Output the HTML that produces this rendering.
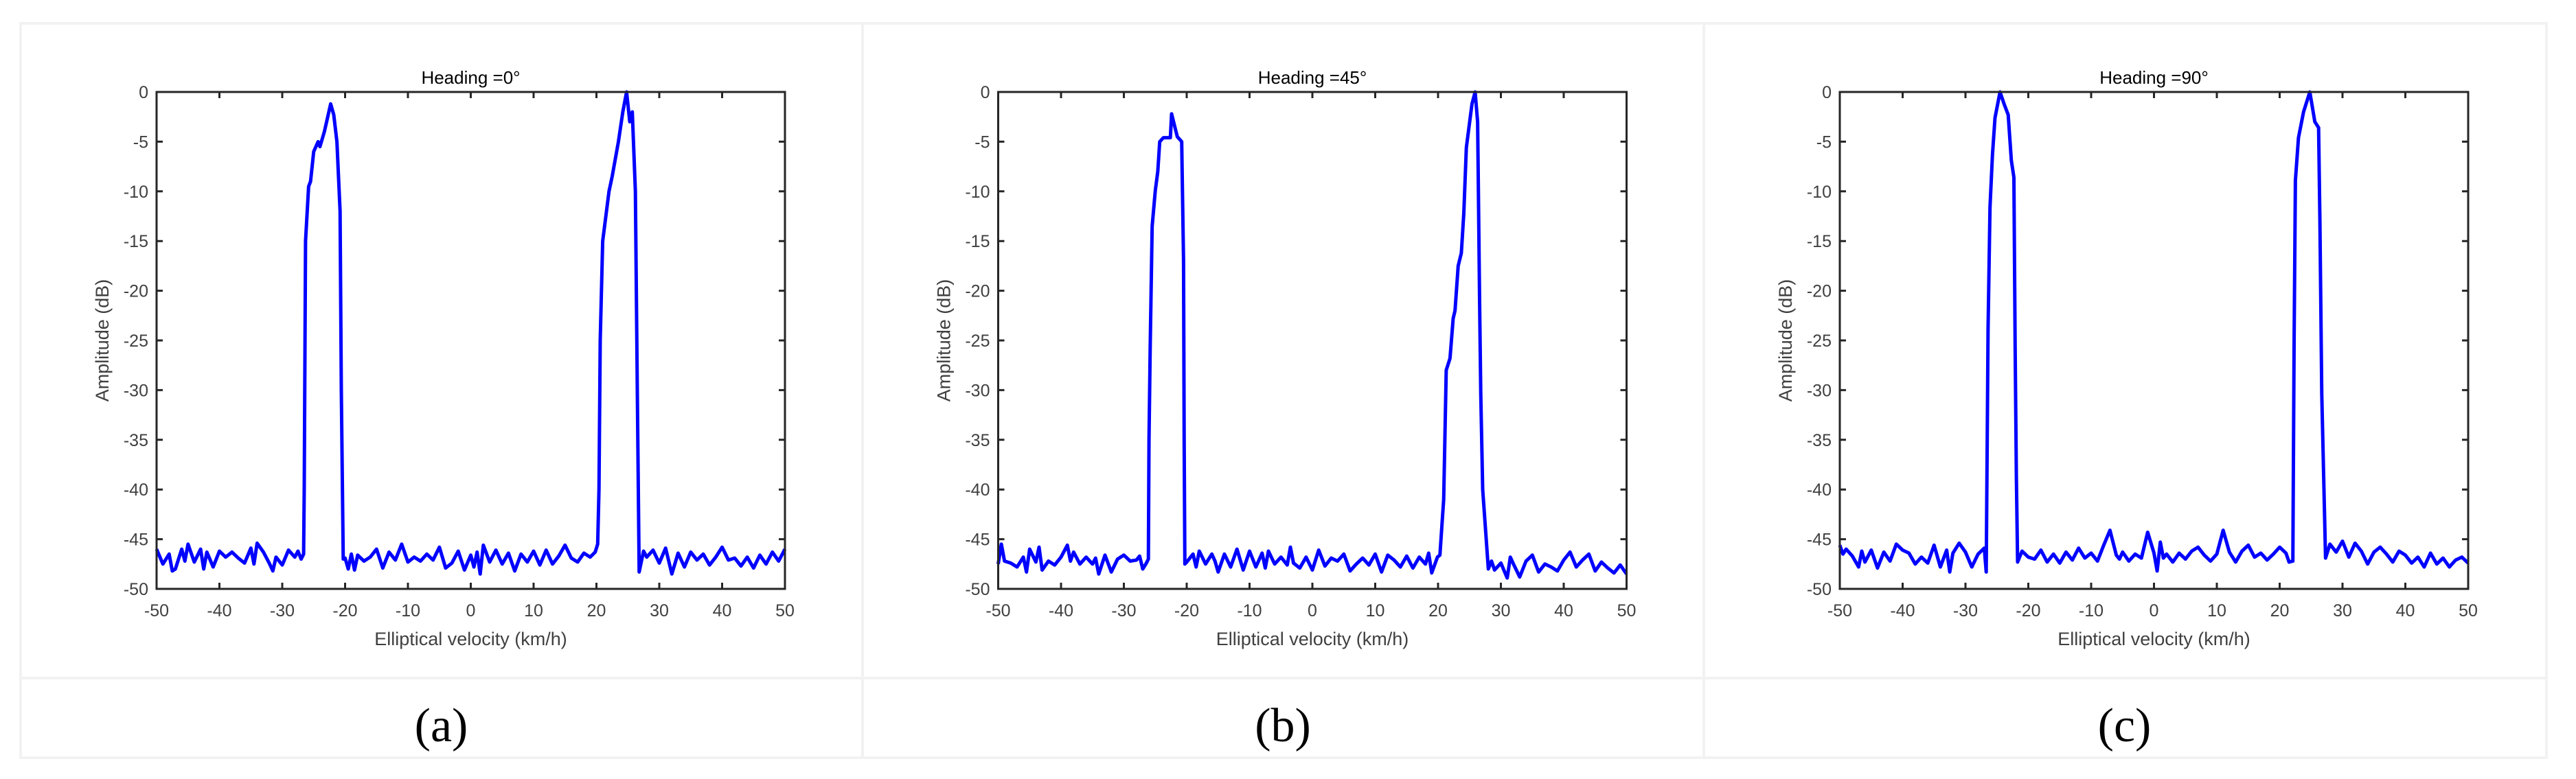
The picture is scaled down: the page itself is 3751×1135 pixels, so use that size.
<!DOCTYPE html>
<html><head><meta charset="utf-8">
<style>
html,body{margin:0;padding:0;background:#fff;}
svg{display:block;}
text{font-family:"Liberation Sans",sans-serif;}
text.serif{font-family:"Liberation Serif",serif;}
</style></head>
<body>
<svg id="fig" width="3751" height="1135" viewBox="0 0 3751 1135" xmlns="http://www.w3.org/2000/svg">
<g fill="none" stroke="#f2f2f2" stroke-width="4">
<rect x="30" y="34" width="3678" height="1070"/>
<line x1="30" y1="988" x2="3708" y2="988"/>
<line x1="1256" y1="34" x2="1256" y2="1104"/>
<line x1="2481" y1="34" x2="2481" y2="1104"/>
</g>
</svg>
<script>
const xTicks=[-50,-40,-30,-20,-10,0,10,20,30,40,50];
const yTicks=[0,-5,-10,-15,-20,-25,-30,-35,-40,-45,-50];
const titles=["Heading =0°","Heading =45°","Heading =90°"];
const captions=["(a)","(b)","(c)"];

const xsA=[-50,-49,-48,-47.5,-47,-46,-45.5,-45,-44,-43,-42.5,-42,-41,-40,-39,-38,-37,-36,-35,-34.5,-34,-33,-32,-31.5,-31,-30,-29,-28,-27.5,-27,-26.6,-26.5,-26.3,-25.8,-25.5,-25,-24.3,-24,-23.3,-22.3,-21.8,-21.3,-20.8,-20.6,-20.3,-20,-19.5,-19,-18.5,-18,-17,-16,-15,-14,-13,-12,-11,-10,-9,-8,-7,-6,-5,-4,-3,-2,-1,0,0.5,1,1.5,2,3,4,5,6,7,8,9,10,11,12,13,14,15,16,17,18,19,19.8,20.2,20.4,20.6,21,22,22.5,23.5,24.2,24.8,25.3,25.7,26.2,26.5,26.8,27.5,28,29,30,31,32,33,34,35,36,37,38,39,40,41,42,43,44,45,46,47,48,49,50];
const ysA=[-46,-47.5,-46.5,-48.2,-48,-46,-47.2,-45.5,-47.3,-46,-48,-46.3,-47.8,-46.2,-46.8,-46.3,-46.9,-47.4,-45.9,-47.5,-45.4,-46.3,-47.5,-48.2,-46.8,-47.6,-46.1,-46.8,-46.2,-47,-46.5,-40,-15,-9.5,-9,-6,-5,-5.5,-4,-1.2,-2.3,-5,-12,-30,-47,-46.9,-48,-46.5,-48.1,-46.6,-47.2,-46.8,-46,-47.9,-46.3,-47.1,-45.5,-47.3,-46.8,-47.2,-46.5,-47.1,-45.8,-47.9,-47.4,-46.2,-48.1,-46.6,-47.8,-46.3,-48.5,-45.6,-47.3,-46.1,-47.5,-46.4,-48.2,-46.5,-47.3,-46.2,-47.6,-46.1,-47.5,-46.7,-45.6,-46.9,-47.3,-46.4,-46.8,-46.3,-45.5,-40,-25,-15,-10,-8.5,-5,-2,0,-3,-2,-10,-30,-48.3,-46.2,-46.8,-46.1,-47.4,-45.9,-48.5,-46.4,-47.8,-46.3,-47.1,-46.5,-47.6,-46.8,-45.8,-47.1,-46.9,-47.7,-46.8,-47.9,-46.6,-47.5,-46.3,-47.2,-46];

const xsB=[-50,-49.5,-49,-48,-47,-46,-45.5,-45,-44,-43.5,-43,-42,-41,-40,-39,-38.5,-38,-37,-36,-35,-34.5,-34,-33,-32,-31,-30,-29,-28,-27.5,-27,-26.5,-26.1,-26,-25.8,-25.5,-25,-24.6,-24.3,-23.7,-22.6,-22.4,-21.5,-20.8,-20.5,-20.4,-20.3,-20,-19,-18.5,-18,-17,-16,-15.5,-15,-14,-13,-12,-11,-10,-9,-8,-7.5,-7,-6,-5,-4,-3.5,-3,-2,-1,0,1,2,3,4,5,6,7,8,9,10,11,12,13,14,15,16,17,18,18.5,19,19.9,20.3,20.9,21.3,21.9,22.4,22.7,23.2,23.7,24.1,24.5,25.4,25.9,26.3,26.4,26.6,26.8,27.1,28,28.5,29,30,31,31.5,32,33,34,35,36,37,38,39,40,41,42,43,44,45,46,47,48,49,50];
const ysB=[-47.5,-45.5,-47.2,-47.4,-47.8,-46.8,-48.3,-46,-47.3,-45.8,-48.1,-47.2,-47.6,-46.8,-45.6,-47.2,-46.3,-47.5,-46.8,-47.5,-46.9,-48.5,-46.6,-48.3,-47,-46.6,-47.2,-47.1,-46.7,-48,-47.5,-47,-35,-25.4,-13.5,-9.9,-8,-5,-4.6,-4.6,-2.2,-4.5,-5,-17,-35,-47.5,-47.3,-46.5,-47.8,-46.2,-47.5,-46.5,-47.2,-48.3,-46.5,-47.8,-46,-48.1,-46.2,-47.8,-46.4,-47.9,-46.2,-47.5,-46.8,-47.6,-45.8,-47.4,-47.9,-46.8,-48.1,-46.1,-47.7,-46.9,-47.2,-46.5,-48.2,-47.5,-46.9,-47.6,-46.5,-48.3,-46.6,-47.1,-47.8,-46.7,-47.9,-46.8,-47.5,-46.4,-48.4,-46.8,-46.6,-41,-28,-26.8,-22.8,-22,-17.5,-16.2,-12.2,-5.6,-1.2,0,-3,-9,-20.5,-30.4,-40,-48,-47.2,-48.1,-47.4,-48.9,-46.8,-47.5,-48.8,-47.2,-46.6,-48.3,-47.5,-47.8,-48.2,-47.1,-46.3,-47.8,-47.1,-46.5,-48.2,-47.3,-47.9,-48.4,-47.6,-48.5];

const xsC=[-50,-49.5,-49,-48,-47,-46.5,-46,-45,-44,-43,-42,-41,-40,-39,-38,-37,-36,-35,-34,-33,-32.5,-32,-31,-30,-29,-28,-27,-26.7,-26.4,-26.1,-25.7,-25.3,-24.5,-23.8,-23.2,-22.7,-22.3,-22.1,-21.9,-21.7,-21,-20,-19,-18,-17,-16,-15,-14,-13,-12,-11,-10,-9,-8,-7,-6,-5.5,-5,-4,-3,-2,-1,0,0.5,1,1.5,2,3,4,5,6,7,8,9,10,11,12,13,14,15,16,17,18,19,20,21,21.5,22.1,22.3,22.5,23,23.8,24.8,25.6,26.2,26.4,26.7,27.3,28,29,30,31,32,33,34,35,36,37,38,39,40,41,42,43,44,45,46,47,48,49,50];
const ysC=[-45.6,-46.5,-46,-46.7,-47.8,-46.2,-47.3,-46.1,-47.9,-46.3,-47.2,-45.5,-46.1,-46.4,-47.5,-46.8,-47.4,-45.6,-47.8,-46.1,-48.3,-46.4,-45.4,-46.3,-47.8,-46.5,-45.9,-48.3,-23.8,-11.6,-6.3,-2.6,0,-1.3,-2.3,-6.9,-8.6,-25.5,-38.7,-47.3,-46.2,-46.8,-47,-46.1,-47.3,-46.5,-47.4,-46.3,-47.1,-45.9,-46.9,-46.4,-47.2,-45.6,-44.1,-46.6,-47,-46.3,-47.2,-46.5,-46.9,-44.3,-46.4,-48.2,-45.3,-46.9,-46.5,-47.3,-46.4,-47,-46.2,-45.8,-46.6,-47.2,-46.5,-44.1,-46.3,-47.3,-46.2,-45.6,-46.8,-46.4,-47.1,-46.5,-45.8,-46.4,-47.3,-47.2,-25.4,-8.9,-4.6,-2,0,-3,-3.6,-13,-30.4,-46.9,-45.5,-46.3,-45.2,-46.8,-45.4,-46.2,-47.5,-46.3,-45.8,-46.5,-47.3,-46.2,-46.6,-47.4,-46.8,-47.8,-46.4,-47.5,-46.9,-47.8,-47.1,-46.8,-47.4];

const allX=[xsA,xsB,xsC];
const allY=[ysA,ysB,ysC];

const NS="http://www.w3.org/2000/svg";
const svg=document.getElementById('fig');
function mk(tag,attrs,parent){const e=document.createElementNS(NS,tag);for(const k in attrs)e.setAttribute(k,attrs[k]);parent.appendChild(e);return e;}

const L0=228,W=915,T=134,H=724,OFF=1225.5;
for(let p=0;p<3;p++){
  const L=L0+p*OFF;
  const xs=v=>L+(v+50)/100*W;
  const ys=v=>T+(-v)/50*H;
  const g=mk('g',{},svg);
  
  
  xTicks.forEach(t=>{
    const x=xs(t);
    const tl=mk('path',{d:`M${x},${T+H}v-9M${x},${T}v9`,stroke:'#262626','stroke-width':3},g);
    
    
    const tx=mk('text',{x:x,y:898,'text-anchor':'middle','font-size':25,fill:'#404040'},g);
    
    
    tx.textContent=t;
  });
  yTicks.forEach(t=>{
    const y=ys(t);
    const tl=mk('path',{d:`M${L},${y}h9M${L+W},${y}h-9`,stroke:'#262626','stroke-width':3},g);
    
    
    const tx=mk('text',{x:L-12,y:y+9,'text-anchor':'end','font-size':25,fill:'#404040'},g);
    
    
    tx.textContent=t;
  });
  let d='';
  allX[p].forEach((v,i)=>{d+=(i?'L':'M')+xs(v).toFixed(1)+','+ys(allY[p][i]).toFixed(1);});
  const ln=mk('path',{d:d,fill:'none',stroke:'#0000ff','stroke-width':5,'stroke-linejoin':'round'},g);
  
  
  const box=mk('rect',{x:L,y:T,width:W,height:H,fill:'none',stroke:'#262626','stroke-width':3},g);
  
  
  const ti=mk('text',{x:L+W/2,y:122,'text-anchor':'middle','font-size':26,fill:'#000'},g);
  
  
  ti.textContent=titles[p];
  const xl=mk('text',{x:L+W/2,y:940,'text-anchor':'middle','font-size':27,fill:'#404040'},g);
  
  
  xl.textContent='Elliptical velocity (km/h)';
  const yl=mk('text',{x:0,y:0,'text-anchor':'middle','font-size':27,fill:'#404040',transform:`translate(${L-70},${T+H/2}) rotate(-90)`},g);
  
  
  yl.textContent='Amplitude (dB)';
  const cp=mk('text',{x:L+W/2-43,y:1080,'text-anchor':'middle','font-size':70,fill:'#000','class':'serif'},g);
  
  
  cp.textContent=captions[p];
}
</script>
</body></html>
